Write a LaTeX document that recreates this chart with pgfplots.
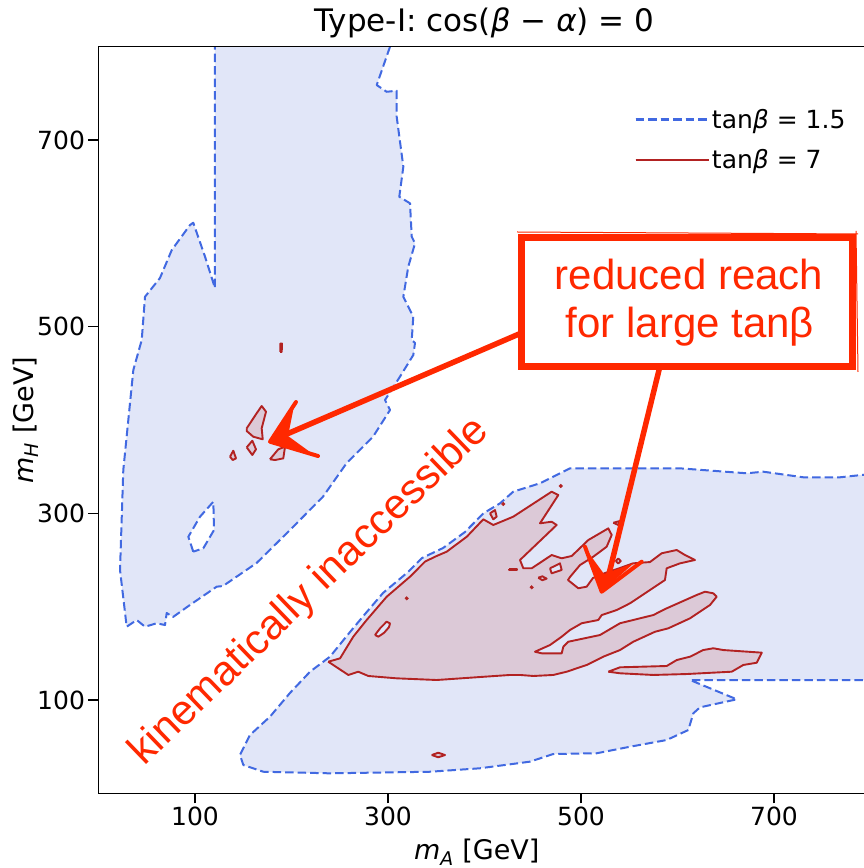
\documentclass[border=0pt]{standalone}
\usepackage{pgfplots}
\pgfplotsset{compat=1.18}
\usepackage{fontspec}
\setmainfont{DejaVu Sans}
\newfontfamily\annfont{Liberation Sans}
\definecolor{cblue}{HTML}{4169E1}
\definecolor{bfill}{HTML}{E1E6F8}
\definecolor{cred}{HTML}{B22222}
\definecolor{rfill}{HTML}{DCC9D7}
\definecolor{ann}{RGB}{255,40,0}
\tikzset{
  bline/.style={cblue, line width=2pt, dash pattern=on 8.5pt off 4pt, line join=round},
  rline/.style={cred, line width=1.9pt, line join=round},
}
\begin{document}
\begin{tikzpicture}
\begin{axis}[
  width=772pt, height=746.6pt, scale only axis,
  xmin=0, xmax=800, ymin=0, ymax=800,
  xtick={100,300,500,700}, ytick={100,300,500,700},
  xtick pos=left, ytick pos=left,
  tick align=outside, major tick length=10pt,
  tick style={black, line width=1.3pt},
  axis line style={line width=1.4pt},
  axis on top,
  /pgf/number format/assume math mode=true,
  tick label style={font=\fontsize{25}{30}\selectfont},
  xlabel={\textit{m}\textsubscript{\textit{A}} [GeV]},
  ylabel={\textit{m}\textsubscript{\textit{H}} [GeV]},
  xlabel style={font=\fontsize{27}{32}\selectfont, at={(rel axis cs:0.49,-0.079)}, anchor=center},
  ylabel style={font=\fontsize{27}{32}\selectfont, at={(rel axis cs:-0.0939,0.5)}, anchor=center},
  title={Type-I: cos(\textit{β} − \textit{α}) = 0},
  title style={font=\fontsize{31}{36}\selectfont, at={(rel axis cs:0.5,1.0117)}, anchor=base},
  legend style={draw=none, fill=none, at={(rel axis cs:0.69,0.922)}, anchor=north west,
    font=\fontsize{25}{30}\selectfont, row sep=16pt},
  legend cell align=left,
  legend image code/.code={\draw[#1] (0pt,0pt) -- (53pt,0pt); \path (0pt,0pt) -- (73pt,0pt);},
]
\addlegendimage{cblue, line width=2.6pt, dash pattern=on 8.5pt off 4pt}
\addlegendentry{tan\textit{β} = 1.5}
\addlegendimage{cred, line width=2.6pt}
\addlegendentry{tan\textit{β} = 7}

% tan beta = 1.5 : upper-left region
\addplot[bline, fill=bfill] coordinates {
(302.1,800) (288.3,758.9) (298.6,751.7) (309.0,752.8) (309.0,725.0) (315.9,671.4)
(311.7,639.2) (322.8,632.2) (324.6,596.4) (328.0,589.3) (321.0,564.2) (315.9,532.1)
(326.2,510.7) (324.6,485.7) (328.0,482.5) (326.2,469.6) (312.4,446.4) (296.9,421.4)
(302.1,410.7) (284.5,382.1) (257.2,353.9) (232.6,317.8) (198.4,282.1) (163.9,246.8)
(129.0,222.1) (122.5,221.4) (94.8,201.8) (77.2,188.9) (70.7,193.2) (68.9,180.3)
(60.3,182.2) (48.2,178.5) (39.6,185.7) (29.2,178.5) (22.3,239.3) (25.7,346.4)
(36.1,453.6) (44.8,485.7) (48.2,532.1) (63.7,552.1) (75.9,582.1) (94.8,608.9)
(98.2,611.4) (110.4,575.0) (120.7,541.4) (120.7,800)
};
% hole
\addplot[bline, fill=white] coordinates {
(98.2,258.9) (93.1,274.9) (105.2,296.4) (119.0,312.4) (119.7,282.1) (108.6,262.5) (98.2,258.9)
};
% tan beta = 1.5 : lower-right region
\addplot[bline, fill=bfill] coordinates {
(800,342.1) (768.4,338.6) (730.4,338.6) (688.9,344.6) (671.7,342.9) (602.6,348.2)
(550.8,348.2) (488.6,348.2) (457.5,332.2) (429.8,323.2) (416.1,310.7) (398.8,300.0)
(379.8,280.0) (357.0,262.8) (335.2,252.1) (320.7,237.1) (294.8,214.6) (276.2,192.1)
(260.6,172.8) (239.9,146.4) (219.2,130.3) (198.4,107.5) (177.7,82.1) (157.0,62.5)
(146.6,41.0) (150.1,30.3) (170.8,23.1) (239.9,21.4) (343.5,23.1) (395.3,26.8)
(447.1,33.9) (471.3,42.1) (516.3,42.9) (550.8,49.9) (588.8,57.1) (611.2,67.8)
(616.4,85.7) (623.3,92.1) (661.4,100.7) (613.0,121.4) (800,121.4)
};

% tan beta = 7 : main region
\addplot[rline, fill=rfill] coordinates {
(238.1,141.0) (250.3,144.6) (264.0,167.8) (277.9,185.7) (298.6,210.6) (322.8,232.1)
(338.3,248.2) (348.7,253.5) (360.8,258.9) (381.6,274.9) (398.8,293.6) (409.1,287.5)
(429.8,296.4) (469.6,323.2) (476.5,319.6) (457.5,289.3) (469.6,291.0) (474.8,287.5)
(436.8,250.0) (440.2,241.1) (448.9,241.1) (469.6,255.3) (480.0,251.8) (490.4,254.3)
(507.6,271.4) (528.3,283.9) (531.8,276.8) (526.6,264.2) (512.7,253.5) (499.0,244.6)
(488.6,231.8) (486.5,228.5) (497.2,219.7) (505.9,221.4) (512.4,230.7) (524.9,236.0)
(540.4,241.4) (553.9,246.4) (571.5,247.8) (583.6,257.2) (599.2,260.7) (607.8,255.3)
(618.1,250.0) (602.6,246.4) (588.8,241.1) (587.0,228.5) (550.8,203.6) (537.0,196.4)
(521.5,191.0) (517.9,185.7) (500.7,182.2) (488.6,175.0) (480.0,167.8) (467.9,158.9)
(452.3,151.7) (459.3,150.0) (480.0,150.0) (481.7,157.1) (486.8,162.4) (519.7,169.6)
(540.4,182.2) (574.9,191.0) (588.8,198.2) (619.9,212.5) (628.5,216.0) (637.1,214.3)
(640.6,210.6) (633.7,201.8) (613.0,187.5) (590.5,176.8) (576.7,173.1) (554.2,162.4)
(540.4,153.5) (523.1,146.4) (505.9,137.5) (485.2,130.3) (471.3,126.8) (450.6,125.7)
(436.8,126.8) (426.4,126.8) (350.5,121.4) (309.0,123.2) (279.6,125.7) (269.2,130.3)
(258.9,126.8) (238.1,141.0)
};
% lower finger
\addplot[rline, fill=rfill] coordinates {
(528.3,130.3) (540.4,135.0) (588.8,136.4) (599.2,142.8) (613.0,146.4) (626.7,153.5)
(637.1,155.4) (647.5,153.5) (687.3,150.7) (682.1,139.9) (668.2,137.5) (656.2,130.3)
(609.5,127.8) (574.9,126.8) (540.4,128.6) (528.3,130.3)
};
% holes inside red region
\addplot[rline, fill=bfill] coordinates {
(286.5,169.6) (292.0,177.0) (298.6,183.9) (302.1,182.0) (301.0,178.0) (296.0,172.0) (290.0,167.8) (286.5,169.6)
};
\addplot[rline, fill=bfill] coordinates {
(467.9,241.1) (478.2,246.4) (480.0,239.3) (469.6,235.7) (467.9,241.1)
};
% small red islands
\addplot[rline, fill=rfill] coordinates {
(153.6,391.1) (163.9,407.2) (169.1,415.0) (173.6,408.9) (169.1,391.1) (170.2,379.3) (160.4,382.1) (153.6,388.2) (153.6,391.1)
};
\addplot[rline, fill=rfill] coordinates {
(153.6,370.7) (159.4,377.8) (163.2,368.6) (159.4,362.5) (153.6,370.7)
};
\addplot[rline, fill=rfill] coordinates {
(136.3,360.7) (139.7,367.1) (142.5,358.9) (139.1,357.1) (136.3,360.7)
};
\addplot[rline, fill=rfill] coordinates {
(177.7,357.9) (186.3,368.6) (193.3,371.4) (191.5,358.9) (182.9,357.1) (177.7,357.9)
};
\addplot[rline, fill=rfill] coordinates {
(188.3,473.0) (189.9,473.0) (190.1,482.0) (188.5,482.0) (188.3,473.0)
};
\addplot[rline, fill=rfill] coordinates {
(345.3,41.0) (352.1,43.5) (359.1,41.0) (352.1,38.6) (345.3,41.0)
};
\addplot[rline, fill=rfill] coordinates {
(405.7,300.0) (410.9,303.5) (412.6,296.4) (409.1,293.6) (405.7,300.0)
};
\addplot[rline, fill=rfill] coordinates {
(425.8,240.6) (434.1,240.6) (434.1,239.4) (425.8,239.4) (425.8,240.6)
};
\addplot[rline, fill=rfill] coordinates {
(455.7,231.0) (460.0,232.5) (464.4,230.0) (460.0,228.3) (455.7,231.0)
};
\addplot[rline, fill=bfill] coordinates {
(533.5,289.9) (540.4,291.8) (538.6,287.5) (533.5,289.9)
};
\addplot[rline, fill=bfill] coordinates {
(536.0,248.9) (538.6,251.5) (541.2,248.9) (538.6,246.3) (536.0,248.9)
};
\addplot[only marks, mark=*, mark size=1.8pt, cred] coordinates {
(319.4,208.9) (479.0,329.3) (419.5,310.0) (448.9,220.7)
};

\coordinate (ll) at (rel axis cs:0,0);
\end{axis}

% annotations (pixel coordinates of the 863x868 picture)
\begin{scope}[shift={(ll)}, xshift=-98.5pt, yshift=793.3pt, x=1pt, y=-1pt]
  \node[ann, rotate=44, font=\annfont\fontsize{42}{48}\selectfont] at (310,592) {kinematically inaccessible};
  % arrow 1
  \draw[ann, line width=5.5pt, line cap=round] (526,331) -- (280,437);
  \fill[ann] (270,441.7) -- (294,406) -- (288,436) -- (310,452) -- cycle;
  \draw[ann, line width=4pt, line cap=round, line join=round] (296,402) -- (270,441.7) -- (318,456);
  % arrow 2
  \draw[ann, line width=5.5pt, line cap=round] (660,366) -- (607,582);
  \fill[ann] (601.7,591.7) -- (588,552) -- (604,574) -- (634,563) -- cycle;
  \draw[ann, line width=4pt, line cap=round, line join=round] (585,546.7) -- (601.7,591.7) -- (641.7,561.7);
  % box
  \draw[ann, line width=7pt, fill=white] (521,237.5) rectangle (852.5,367);
  \draw[ann, line width=1pt] (517,232) -- (858,234);
  \draw[ann, line width=1pt] (856,231) -- (858,372);
  \node[ann, anchor=base, font=\annfont\fontsize{42}{48}\selectfont] at (689,290) {reduced reach};
  \node[ann, anchor=base, font=\annfont\fontsize{42}{48}\selectfont] at (690,338) {for large tanβ};
\end{scope}

\pgfresetboundingbox
\path[use as bounding box] (ll) ++(-98.5pt,-74.7pt) rectangle ++(863pt,868pt);
\end{tikzpicture}
\end{document}
